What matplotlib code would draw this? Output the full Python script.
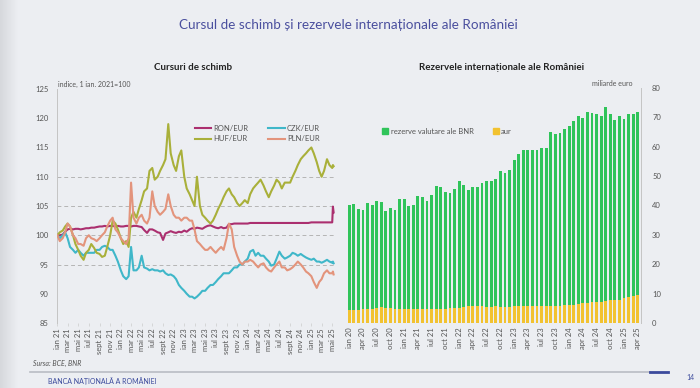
import matplotlib
matplotlib.use('Agg')
import matplotlib.pyplot as plt
from matplotlib.patches import Patch
from matplotlib.lines import Line2D
import numpy as np
import pandas as pd

plt.rcParams['font.family'] = ['Lato', 'DejaVu Sans']

luni = ['ian', 'feb', 'mar', 'apr', 'mai', 'iun', 'iul', 'aug', 'sept', 'oct', 'nov', 'dec']

# cursuri - indice, 1 ian. 2021 = 100 (valori la 1 si 15 ale lunii + inceput de mai 2025)
zile = list(pd.date_range('2021-01-01', '2025-05-01', freq='SMS')) + \
    [pd.Timestamp('2025-05-05'), pd.Timestamp('2025-05-09')]

ron = [100, 100, 100.1, 100.6, 101, 101.1, 101, 101.1, 101.1, 101, 101.1, 101.2,
       101.2, 101.3, 101.3, 101.4, 101.5, 101.5, 101.6, 101.5, 101.6, 101.6, 101.5, 101.6,
       101.5, 101.5, 101.6, 101.6, 101.5, 101.6, 101.6, 101.5, 101.4, 100.9, 100.4, 101,
       101, 100.8, 100.5, 100.4, 99.2, 100.3, 100.5, 100.7, 100.5, 100.4, 100.6, 100.5,
       100.8, 100.6, 101, 101.2, 101.1, 101.3, 101.2, 101.1, 101.4, 101.6, 101.7, 101.5,
       101.3, 101.2, 101.4, 101.2, 101.3, 101.9, 101.9, 102, 102, 102, 102, 102,
       102, 102.1, 102.1, 102.1, 102.1, 102.1, 102.1, 102.1, 102.1, 102.1, 102.1, 102.1,
       102.1, 102.1, 102.1, 102.1, 102.1, 102.1, 102.1, 102.1, 102.1, 102.1, 102.1, 102.1,
       102.2, 102.2, 102.2, 102.2, 102.2, 102.2, 102.2, 102.2, 102.2, 104.9, 103.9]

czk = [100, 99.5, 100, 100.5, 99.5, 98, 97.5, 97, 97.5, 97, 96.5, 97,
       97, 97, 97, 97.5, 97.5, 98, 98.2, 98, 97.5, 97.5, 96.5, 95.5,
       94, 93, 92.5, 93, 98, 94, 94, 94.5, 96.5, 94.5, 94.3, 94,
       94.2, 94, 94, 93.8, 94, 93.5, 93.2, 93.3, 93, 92.5, 91.5, 91,
       90.5, 90, 89.5, 89.5, 89.2, 89.5, 90, 90.5, 90.5, 91, 91.5, 91.5,
       92, 92.5, 93, 93.5, 93.5, 93.5, 94, 94.5, 94.5, 95, 95, 95.5,
       96, 97.2, 97.5, 96.5, 97, 96.5, 96.5, 96, 95.5, 94.8, 95, 96,
       97.2, 96.5, 96, 96.2, 96.5, 97, 96.8, 96.5, 96.8, 96.5, 96.2, 96,
       95.8, 96, 95.5, 95.5, 95.3, 95.5, 95.8, 95.5, 95.3, 95.5, 95.2]

huf = [100, 100.5, 100.8, 101.5, 102, 101.5, 100, 98.5, 97.5, 96.5, 95.8, 97,
       97.5, 98.5, 97.8, 97, 96.8, 96.3, 96.5, 98, 100, 102.5, 102, 101,
       99.5, 98.5, 99, 98, 103, 104, 103, 104.5, 106, 107.5, 108, 111,
       111.5, 109.5, 110, 111, 112, 113, 119, 114, 112, 111, 113.5, 114.5,
       110, 108, 107, 106, 105, 110, 105, 103.5, 103, 102.5, 102, 102.5,
       103.5, 104.5, 105.5, 106.5, 107.5, 108, 107, 106.5, 105.5, 105, 105.5, 106,
       105.5, 107, 108, 108.5, 109, 109.5, 108.5, 107.5, 106.5, 107.5, 108.5, 109.5,
       109, 108, 109, 109, 109, 110, 111, 112, 113, 113.5, 114, 114.5,
       115, 114, 112.5, 111, 110, 111, 113, 112, 111.5, 112, 111.8]

pln = [100, 99, 99.5, 100.5, 102, 101.5, 100, 99.5, 98.5, 98.5, 98.2, 99.5,
       100, 99.5, 99.3, 99, 99.5, 100, 100.5, 101.5, 102.5, 103, 101, 100.5,
       99.5, 99, 98.5, 99.5, 109, 103, 102, 103, 103.5, 102.5, 102, 103,
       107.5, 105, 104, 103.5, 104, 104.5, 107, 105, 103.5, 103, 103, 102.5,
       103, 103, 102.5, 102.5, 101, 99, 98.5, 98, 97.5, 97.5, 98, 97.5,
       97, 97.5, 98, 97.5, 99.5, 102, 101, 98, 96.5, 95.5, 95, 95.5,
       95.5, 95.8, 95.5, 95, 94.5, 95, 95.2, 94.5, 94, 93.8, 94.5, 95,
       95.5, 94.5, 94.5, 94, 94.2, 94.5, 95, 95.5, 95, 94.5, 93.8, 93.5,
       93, 92, 91, 92, 92.5, 93.5, 94, 93.5, 93.5, 93.8, 93.3]

serii = ['RON/EUR', 'CZK/EUR', 'HUF/EUR', 'PLN/EUR']
culori = ['#ab2f6f', '#3fb7c9', '#a9b03a', '#e3947c']

# rezerve - miliarde euro, lunar ian 2020 - apr 2025
luni_rez = pd.date_range('2020-01-01', '2025-04-01', freq='MS')
total = [40.3, 40.6, 38.8, 38.4, 40.8, 40.3, 41.6, 41.1, 38.0, 39.0, 38.4, 42.2,
         42.2, 40.0, 40.3, 43.1, 42.8, 41.6, 43.7, 46.8, 46.2, 44.5, 44.3, 45.6,
         48.2, 47.0, 45.4, 46.3, 46.3, 47.6, 48.2, 48.2, 49.0, 51.6, 51.1, 52.2,
         55.6, 57.6, 59.0, 59.0, 59.0, 59.0, 59.6, 59.6, 65.1, 64.4, 64.8, 65.9,
         67.2, 68.9, 70.6, 69.8, 71.9, 71.4, 71.0, 70.3, 73.5, 71.2, 69.2, 70.3,
         69.6, 71.2, 71.2, 71.9]
aur = [4.3, 4.5, 4.5, 4.9, 4.9, 4.9, 5.2, 5.4, 5.2, 5.1, 4.9, 4.9,
       4.8, 4.6, 4.6, 4.7, 4.8, 4.7, 4.8, 4.8, 4.8, 4.9, 5.0, 5.0,
       5.1, 5.4, 5.7, 5.8, 5.8, 5.7, 5.6, 5.6, 5.7, 5.6, 5.6, 5.6,
       5.7, 5.7, 5.9, 5.9, 5.9, 5.8, 5.8, 5.8, 5.8, 5.9, 5.9, 6.0,
       6.0, 6.1, 6.5, 6.8, 6.9, 7.0, 7.2, 7.3, 7.6, 7.9, 7.8, 8.0,
       8.4, 8.7, 9.1, 9.5]
valutare = [t - a for t, a in zip(total, aur)]

fundal = '#eceef2'
gri = '#555555'

fig = plt.figure(figsize=(7, 3.88), dpi=100, facecolor=fundal)

# umbra pe marginea din stanga
ax0 = fig.add_axes([0, 0, 18 / 700, 1])
ax0.imshow(np.linspace(0, 1, 50).reshape(1, -1), cmap=plt.matplotlib.colors.LinearSegmentedColormap.from_list(
    'umbra', ['#d6d8dc', fundal]), aspect='auto', extent=(0, 1, 0, 1))
ax0.axis('off')

fig.text(0.497, 1 - 25 / 388, 'Cursul de schimb și rezervele internaționale ale României',
         ha='center', va='center', fontsize=9.7, color='#4a4f9e')

######################
# Cursuri de schimb  #
######################
ax1 = fig.add_axes([57 / 700, 65 / 388, 278 / 700, 234 / 388])
ax1.set_facecolor(fundal)
linii = {}
for s, c, v in zip(serii, culori, [ron, czk, huf, pln]):
    linii[s], = ax1.plot(zile, v, color=c, lw=1.5, label=s, zorder=3)

for g in [95, 100, 105, 110]:
    ax1.axhline(g, color='#b5b5b5', lw=0.7, ls=(0, (4, 3)), zorder=1)

ax1.set_ylim(85, 125)
ax1.set_yticks(range(85, 126, 5))
ax1.set_xlim(pd.Timestamp('2020-12-30'), pd.Timestamp('2025-05-17'))
tick_zile = pd.date_range('2021-01-01', '2025-05-01', freq='2MS')
ax1.set_xticks(tick_zile)
ax1.set_xticklabels([f'{luni[d.month - 1]} {d.year % 100:02d}' for d in tick_zile], rotation=90)
ax1.tick_params(axis='both', labelsize=5.5, colors=gri, length=2, width=0.5)
ax1.tick_params(axis='x', color='#cccccc', pad=2)
ax1.tick_params(axis='y', length=0, pad=6)
for sp in ['top', 'right', 'bottom']:
    ax1.spines[sp].set_visible(False)
ax1.spines['left'].set_color('#c4c4c4')
ax1.spines['left'].set_linewidth(0.7)

# ordinea pe randuri: RON, CZK / HUF, PLN
ordine = ['RON/EUR', 'HUF/EUR', 'CZK/EUR', 'PLN/EUR']
ax1.legend(handles=[linii[s] for s in ordine], ncol=2, loc='upper left',
           bbox_to_anchor=(0.47, 0.875), frameon=False,
           fontsize=5.5, handlelength=2.2, columnspacing=2.5, labelspacing=0.4,
           handletextpad=0.3, labelcolor=gri)

fig.text(0.276, 1 - 67 / 388, 'Cursuri de schimb', ha='center', va='center',
         fontsize=7, fontweight='bold', color='#222222')
fig.text(58 / 700, 1 - 84 / 388, 'indice, 1 ian. 2021=100', ha='left', va='center',
         fontsize=5, color=gri)

###############################
# Rezervele internationale    #
###############################
ax2 = fig.add_axes([346 / 700, 65 / 388, 295 / 700, 235 / 388])
ax2.set_facecolor(fundal)
poz = range(len(luni_rez))
ax2.bar(poz, aur, width=0.62, color='#f2c230', zorder=2)
ax2.bar(poz, valutare, bottom=aur, width=0.62, color='#30c45a', zorder=2)

ax2.set_ylim(0, 80)
ax2.set_xlim(-0.7, len(luni_rez) - 0.3)
ax2.yaxis.tick_right()
ax2.set_yticks(range(0, 81, 10))
ax2.set_xticks(list(poz)[::3])
ax2.set_xticklabels([f'{luni[d.month - 1]} {d.year % 100:02d}' for d in luni_rez[::3]], rotation=90)
ax2.tick_params(axis='both', labelsize=5.5, colors=gri, length=0, pad=3)
ax2.tick_params(axis='y', pad=8)
for sp in ['top', 'left', 'bottom']:
    ax2.spines[sp].set_visible(False)
ax2.spines['right'].set_color('#c4c4c4')
ax2.spines['right'].set_linewidth(0.7)

ax2.legend(handles=[Patch(color='#30c45a', label='rezerve valutare ale BNR'),
                    Patch(color='#f2c230', label='aur')],
           ncol=2, loc='upper left', bbox_to_anchor=(0.1, 0.86), frameon=False,
           fontsize=5.5, handlelength=0.8, handleheight=0.8, handletextpad=0.3,
           columnspacing=2.5, labelcolor=gri)

fig.text(0.716, 1 - 67 / 388, 'Rezervele internaționale ale României', ha='center', va='center',
         fontsize=7, fontweight='bold', color='#222222')
fig.text(632 / 700, 1 - 84 / 388, 'miliarde euro', ha='right', va='center',
         fontsize=5, color=gri)

# subsol
fig.text(33 / 700, 1 - 363 / 388, 'Sursa: BCE, BNR', ha='left', va='center',
         fontsize=5, style='italic', color=gri)
fig.add_artist(Line2D([30 / 700, 650 / 700], [1 - 372 / 388] * 2, color='#b9bcc4', lw=1.2))
fig.add_artist(Line2D([650 / 700, 668 / 700], [1 - 372 / 388] * 2, color='#3b4a9c', lw=2))
fig.text(48 / 700, 1 - 381 / 388, 'BANCA NAȚIONALĂ A ROMÂNIEI', ha='left', va='center',
         fontsize=5, color='#3b4a9c')
fig.text(690 / 700, 1 - 378 / 388, '14', ha='center', va='center', fontsize=5, color='#3b4a9c')

fig.savefig('out.png', dpi=100, facecolor=fundal)
